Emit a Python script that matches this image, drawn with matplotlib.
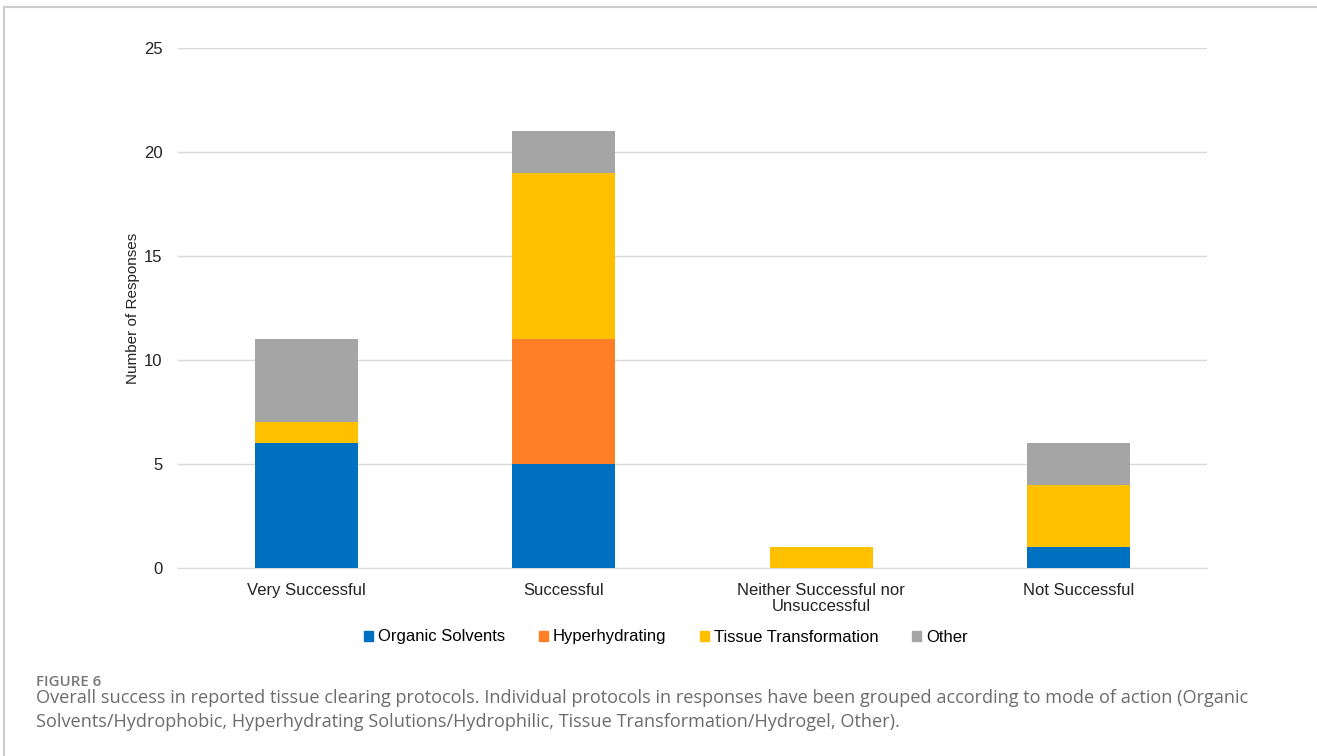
import numpy as np
import matplotlib.pyplot as plt
from matplotlib.lines import Line2D

categories = ["Very Successful", "Successful", "Neither Successful nor\nUnsuccessful", "Not Successful"]
series_names = ["Organic Solvents", "Hyperhydrating", "Tissue Transformation", "Other"]
organic = [6, 5, 0, 1]
hyper = [0, 6, 0, 0]
tissue = [1, 8, 1, 3]
other = [4, 2, 0, 2]
colors = ["#0070C0", "#FF7F27", "#FFC000", "#A5A5A5"]

caption_head = "FIGURE 6"
caption_body = ("Overall success in reported tissue clearing protocols. Individual protocols in responses have been grouped according to mode of action (Organic\n"
                "Solvents/Hydrophobic, Hyperhydrating Solutions/Hydrophilic, Tissue Transformation/Hydrogel, Other).")

plt.rcParams['font.family'] = ['Liberation Sans', 'DejaVu Sans']

fig = plt.figure(figsize=(13.17, 7.56), dpi=100)
ax = fig.add_axes([178/1317, 1 - 568/756, (1207-178)/1317, (568-48)/756])

x = np.arange(len(categories))
bottom = np.zeros(len(categories))
for vals, name, c in zip([organic, hyper, tissue, other], series_names, colors):
    ax.bar(x, vals, 0.4, bottom=bottom, color=c, label=name, zorder=3)
    bottom += np.array(vals)

ax.set_xlim(-0.5, 3.5)
ax.set_ylim(0, 25)
ax.set_yticks(range(0, 26, 5))
ax.set_xticks(x)
ax.set_xticklabels(categories, fontsize=12, color="#222222", linespacing=1.1)
ax.tick_params(axis='y', labelsize=12, colors="#222222", length=0, pad=11)
ax.tick_params(axis='x', length=0, pad=11)
ax.grid(axis='y', color="#D9D9D9", linewidth=1, zorder=0)
for s in ["top", "right", "left"]:
    ax.spines[s].set_visible(False)
ax.spines["bottom"].set_color("#D9D9D9")
ax.set_ylabel("Number of Responses", fontsize=11, color="#222222", labelpad=3)

handles = [plt.Rectangle((0, 0), 1, 1, color=c) for c in colors]
fig.legend(handles, series_names, loc="center", bbox_to_anchor=(666/1317, 1 - 637/756),
           ncol=4, frameon=False, fontsize=12, handlelength=0.55, handleheight=0.55,
           handletextpad=0.3, columnspacing=2.0)

# frame lines (top and left)
fig.add_artist(Line2D([4/1317, 1], [1 - 7/756, 1 - 7/756], color="#CCCCCC", linewidth=1.5))
fig.add_artist(Line2D([4/1317, 4/1317], [0, 1 - 7/756], color="#CCCCCC", linewidth=1.5))

fig.text(36/1317, 1 - 682/756, caption_head, fontsize=10.8, color="#777777", fontweight="semibold",
         family=["Open Sans", "DejaVu Sans"], va="center")
fig.text(36/1317, 1 - 710/756, caption_body, fontsize=13.05, color="#6B6B6B",
         family=["Open Sans", "DejaVu Sans"], va="center", linespacing=1.38)

fig.savefig("out.png", dpi=100)
